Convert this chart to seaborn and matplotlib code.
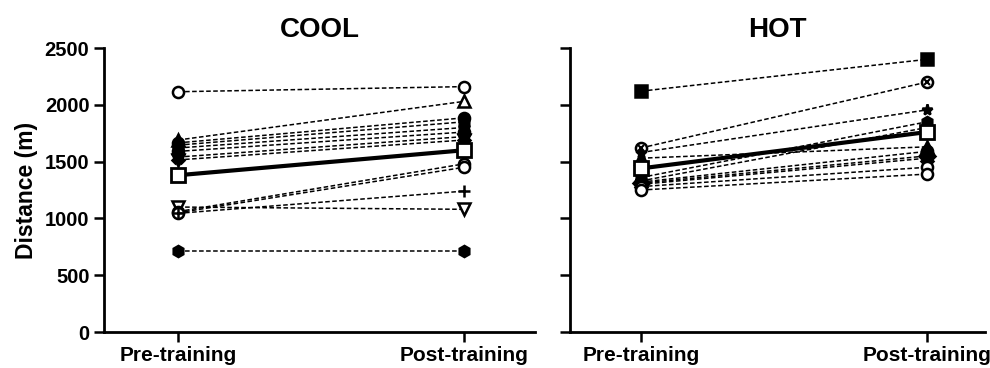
import numpy as np
import pandas as pd
import matplotlib
matplotlib.use("Agg")
import matplotlib.pyplot as plt
import seaborn as sns

# ==========================================
# Data
# ==========================================

time_labels = ["Pre-training", "Post-training"]

cool_pre = [2115, 1690, 1665, 1645, 1620, 1590, 1540, 1515, 1100, 1060, 1050, 1045, 715]
cool_post = [2160, 2030, 1885, 1850, 1800, 1760, 1720, 1690, 1080, 1480, 1450, 1240, 715]
cool_markers = ["o", "^", "o", "h", "p", "o", "X", "v", "v", "o", "o", "+", "h"]
cool_filled = [False, False, True, True, True, True, True, True, False, False, False, True, True]
cool_mean = [1380, 1600]

hot_pre = [2120, 1620, 1580, 1530, 1360, 1330, 1320, 1310, 1300, 1280, 1250]
hot_post = [2400, 2200, 1955, 1630, 1850, 1800, 1590, 1550, 1530, 1450, 1390]
hot_markers = ["s", "o", "*", "^", "h", "p", "o", "D", "X", "o", "o"]
hot_filled = [True, False, True, True, True, True, True, True, True, False, False]
hot_cross = [False, True, False, False, False, False, False, False, False, False, False]
hot_mean = [1440, 1760]

# ==========================================
# Style
# ==========================================

sns.set_style("ticks")
plt.rcParams["font.family"] = ["Liberation Sans", "DejaVu Sans"]
plt.rcParams["font.weight"] = "bold"
plt.rcParams["text.color"] = "black"
plt.rcParams["axes.labelcolor"] = "black"
plt.rcParams["xtick.color"] = "black"
plt.rcParams["ytick.color"] = "black"

fig = plt.figure(figsize=(9.9, 3.68), dpi=100)
ax1 = fig.add_axes([104 / 990, 1 - 332 / 368, 431 / 990, 284 / 368])
ax2 = fig.add_axes([570 / 990, 1 - 332 / 368, 415 / 990, 284 / 368])


def draw_panel(ax, pre, post, markers, filled, mean, cross=None):
    for i in range(len(pre)):
        df = pd.DataFrame({"time": [0, 1], "distance": [pre[i], post[i]]})
        face = "black" if filled[i] else "white"
        sns.lineplot(data=df, x="time", y="distance", ax=ax, color="black",
                     linestyle=(0, (3, 1.6)), linewidth=1.1, marker=markers[i],
                     markersize=8, markerfacecolor=face, markeredgecolor="black",
                     markeredgewidth=1.8, zorder=3)
        if cross is not None and cross[i]:
            ax.plot(df["time"], df["distance"], linestyle="none", marker="x",
                    markersize=5, color="black", markeredgewidth=1.5, zorder=4)
    mdf = pd.DataFrame({"time": [0, 1], "distance": mean})
    sns.lineplot(data=mdf, x="time", y="distance", ax=ax, color="black",
                 linewidth=3, marker="s", markersize=10, markerfacecolor="white",
                 markeredgecolor="black", markeredgewidth=2, zorder=5)


draw_panel(ax1, cool_pre, cool_post, cool_markers, cool_filled, cool_mean)
draw_panel(ax2, hot_pre, hot_post, hot_markers, hot_filled, hot_mean, hot_cross)

for ax, title in [(ax1, "COOL"), (ax2, "HOT")]:
    ax.set_ylim(0, 2500)
    ax.set_yticks([0, 500, 1000, 1500, 2000, 2500])
    ax.set_xticks([0, 1])
    ax.set_xticklabels(time_labels, fontsize=15, fontweight="bold")
    ax.set_xlabel("")
    ax.set_ylabel("")
    ax.set_title(title, fontsize=20, fontweight="bold", pad=8, color="black")
    for side in ["top", "right"]:
        ax.spines[side].set_visible(False)
    for side in ["left", "bottom"]:
        ax.spines[side].set_linewidth(2)
        ax.spines[side].set_color("black")
    ax.tick_params(axis="both", width=1.8, length=7, color="black",
                   labelcolor="black")
    ax.tick_params(axis="x", pad=3)

ax1.set_xlim(-0.259, 1.248)
ax2.set_xlim(-0.248, 1.203)

ax1.set_yticklabels([str(v) for v in [0, 500, 1000, 1500, 2000, 2500]],
                    fontsize=14.5, fontweight="bold")
ax2.set_yticklabels([])
ax1.set_ylabel("Distance (m)", fontsize=16.5, fontweight="bold", labelpad=5,
               color="black")

fig.savefig("out.png", dpi=100)
